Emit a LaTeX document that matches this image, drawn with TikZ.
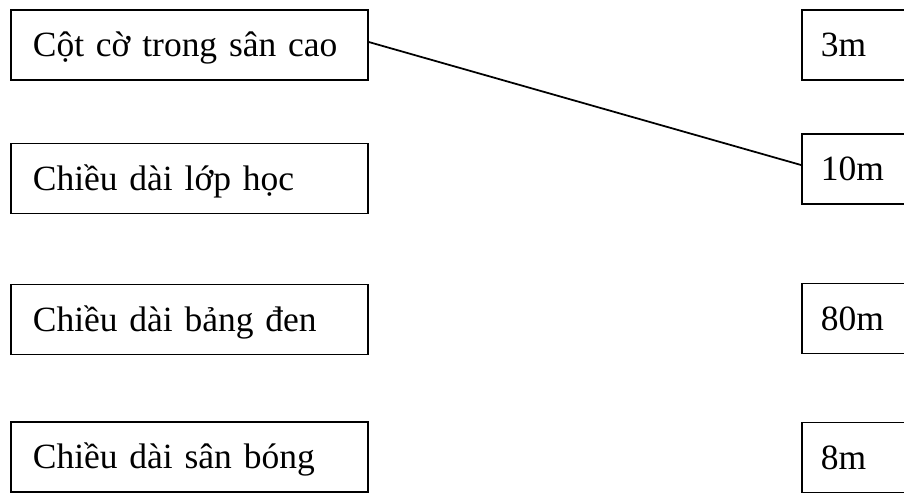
\documentclass[tikz,border=0pt]{standalone}
\usepackage{fontspec}
\setmainfont{Liberation Serif}
\usepackage{tikz}

\tikzset{
  lbox/.style={draw, line width=1pt, anchor=west, minimum width=7.14cm, minimum height=1.4cm,
    inner xsep=0.44cm, text width=6.26cm, align=left, text height=0.6cm, text depth=0.12cm},
  rbox/.style={draw, line width=1pt, anchor=west, minimum width=2.4cm, minimum height=1.4cm,
    inner xsep=0.38cm, text width=1.64cm, align=left, text height=0.6cm, text depth=0.12cm}
}

\begin{document}
\begin{tikzpicture}[x=0.02cm, y=-0.02cm, font=\fontsize{20.2}{24}\selectfont]
                \useasboundingbox (0, 0) rectangle (904, 493);
                \node[lbox] (l1) at (10, 45) {Cột cờ trong sân cao};
                \node[lbox] (l2) at (10, 178.5) {Chiều dài lớp học};
                \node[lbox] (l3) at (10, 319.5) {Chiều dài bảng đen};
                \node[lbox] (l4) at (10, 457) {Chiều dài sân bóng};
                \node[rbox] (r1) at (801, 45) {3m};
                \node[rbox] (r2) at (801, 169) {10m};
                \node[rbox] (r3) at (801, 318.5) {80m};
                \node[rbox] (r4) at (801, 457.5) {8m};
                \draw[line width=1pt]
                ([yshift=0.06cm]l1.east) -- ([yshift=0.08cm]r2.west);
            \end{tikzpicture}
\end{document}
